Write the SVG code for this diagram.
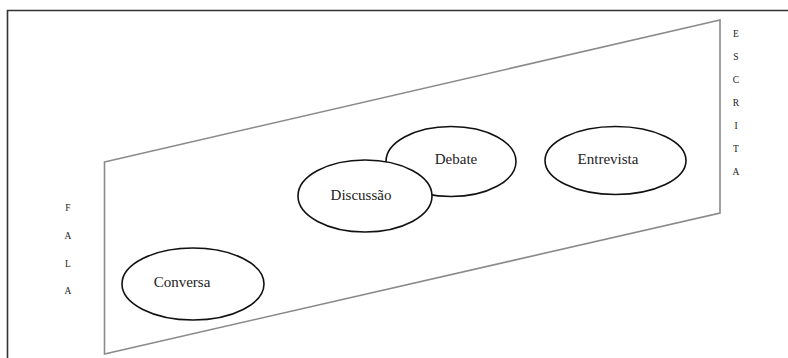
<svg xmlns="http://www.w3.org/2000/svg" width="788" height="358" viewBox="0 0 788 358">
<style>
.frame{fill:none;stroke:#333;stroke-width:1.6}
.plane{fill:none;stroke:#8a8a8a;stroke-width:1.6}
.node ellipse{fill:#fff;stroke:#111;stroke-width:1.6}
.lbl{font-family:"Liberation Serif","Times New Roman",serif;font-size:15px;fill:#222;text-anchor:middle}
.side{font-family:"Liberation Serif","Times New Roman",serif;font-size:9.5px;fill:#222;text-anchor:middle}
</style>
<rect width="788" height="358" fill="#fff"/>
<path class="frame" d="M7.5,358 V10.5 H788"/>
<g id="plane">
<path class="plane" d="M104.5,162 L720,20 L720,213 L104.5,354 Z"/>
</g>
<g id="fala">
<text class="side" x="68" y="211">F</text>
<text class="side" x="68" y="239">A</text>
<text class="side" x="68" y="267">L</text>
<text class="side" x="68" y="294">A</text>
</g>
<g id="escrita">
<text class="side" x="736" y="37">E</text>
<text class="side" x="736" y="60">S</text>
<text class="side" x="736" y="83">C</text>
<text class="side" x="736" y="106">R</text>
<text class="side" x="736" y="129">I</text>
<text class="side" x="736" y="152">T</text>
<text class="side" x="736" y="175">A</text>
</g>
<g id="connectors"></g>
<g id="debate" class="node">
<ellipse cx="451" cy="161.5" rx="65" ry="35"/>
<text class="lbl" x="456" y="164">Debate</text>
</g>
<g id="discussao" class="node">
<ellipse cx="365" cy="196" rx="67" ry="36"/>
<text class="lbl" x="361" y="200">Discussão</text>
</g>
<g id="entrevista" class="node">
<ellipse cx="615.5" cy="160.5" rx="70.5" ry="34"/>
<text class="lbl" x="608" y="164">Entrevista</text>
</g>
<g id="conversa" class="node">
<ellipse cx="193" cy="284" rx="71" ry="36"/>
<text class="lbl" x="182" y="287">Conversa</text>
</g>
</svg>
